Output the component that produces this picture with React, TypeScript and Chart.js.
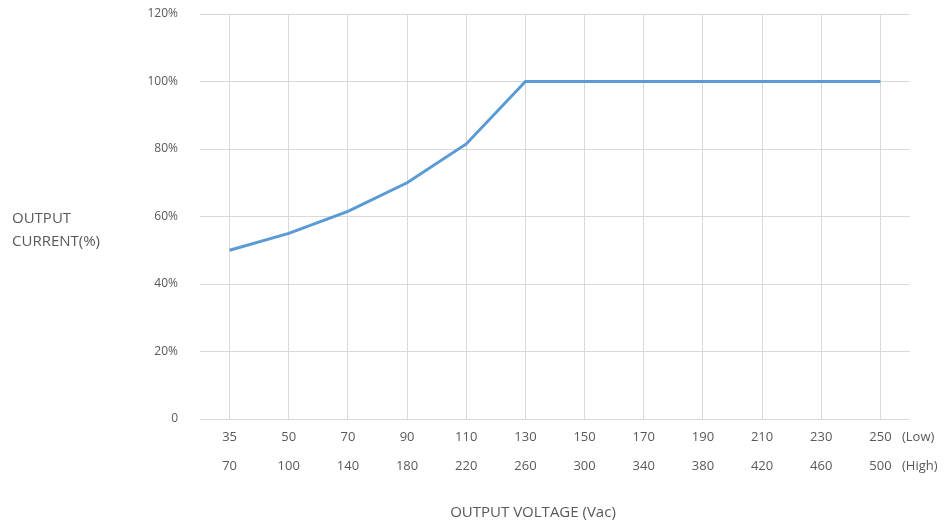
import React, { useEffect, useRef } from "react";
import { Chart, registerables } from "chart.js";

Chart.register(...registerables);

const lowVoltages = ["35", "50", "70", "90", "110", "130", "150", "170", "190", "210", "230", "250"];
const highVoltages = ["70", "100", "140", "180", "220", "260", "300", "340", "380", "420", "460", "500"];
const outputCurrent = [50, 55, 61.5, 70, 81.5, 100, 100, 100, 100, 100, 100, 100];
const yTicks = [0, 20, 40, 60, 80, 100, 120];
const rowNames = ["(Low)", "(High)"];
const yTitle = ["OUTPUT", "CURRENT(%)"];
const xTitle = "OUTPUT VOLTAGE (Vac)";

const TEXT = "#595959";
const GRID = "#d9d9d9";
const FONT = "'Open Sans', 'Liberation Sans', sans-serif";

const labelsPlugin = {
  id: "extraLabels",
  afterDraw(chart: any) {
    const ctx = chart.ctx;
    const area = chart.chartArea;
    ctx.save();
    ctx.fillStyle = TEXT;
    ctx.font = `13px ${FONT}`;
    ctx.textAlign = "left";
    ctx.textBaseline = "middle";
    ctx.fillText(rowNames[0], area.right - 8, area.bottom + 18);
    ctx.fillText(rowNames[1], area.right - 8, area.bottom + 47);
    ctx.font = `15px ${FONT}`;
    ctx.fillText(yTitle[0], 12, 219);
    ctx.fillText(yTitle[1], 12, 242);
    ctx.textAlign = "center";
    ctx.fillText(xTitle, 533, 513);
    ctx.restore();
  },
};

export default function App() {
  const ref = useRef<HTMLCanvasElement>(null);
  useEffect(() => {
    const chart = new Chart(ref.current!, {
      type: "line",
      data: {
        labels: lowVoltages.map((l, i) => [l, highVoltages[i]]),
        datasets: [
          {
            data: outputCurrent,
            borderColor: "#5b9bd5",
            borderWidth: 3,
            pointRadius: 0,
            tension: 0,
            fill: false,
          },
        ],
      },
      options: {
        animation: false,
        responsive: false,
        layout: { padding: { top: 14, right: 41, left: 0, bottom: 0 } },
        plugins: { legend: { display: false }, tooltip: { enabled: false } },
        scales: {
          x: {
            offset: true,
            grid: { color: GRID, drawTicks: false, offset: false },
            border: { display: false },
            ticks: {
              color: TEXT,
              font: { family: FONT, size: 13, lineHeight: 29 / 13 },
              padding: 4,
              maxRotation: 0,
              autoSkip: false,
            },
            afterFit(scale: any) {
              scale.height = 104;
            },
          },
          y: {
            min: 0,
            max: 120,
            afterBuildTicks(scale: any) {
              scale.ticks = yTicks.map((v) => ({ value: v }));
            },
            grid: { color: GRID, drawTicks: false },
            border: { display: false },
            ticks: {
              color: TEXT,
              font: { family: FONT, size: 12 },
              padding: 22,
              callback: (v: any) => (v === 0 ? "0" : `${v}%`),
            },
            afterFit(scale: any) {
              scale.width = 200;
              scale.paddingTop = 0;
              scale.paddingBottom = 0;
            },
          },
        },
      },
      plugins: [labelsPlugin],
    });
    return () => chart.destroy();
  }, []);
  return (
    <div style={{ position: "fixed", left: 0, top: 0, width: 951, height: 523, background: "#fff" }}>
      <canvas ref={ref} width={951} height={523} />
    </div>
  );
}
